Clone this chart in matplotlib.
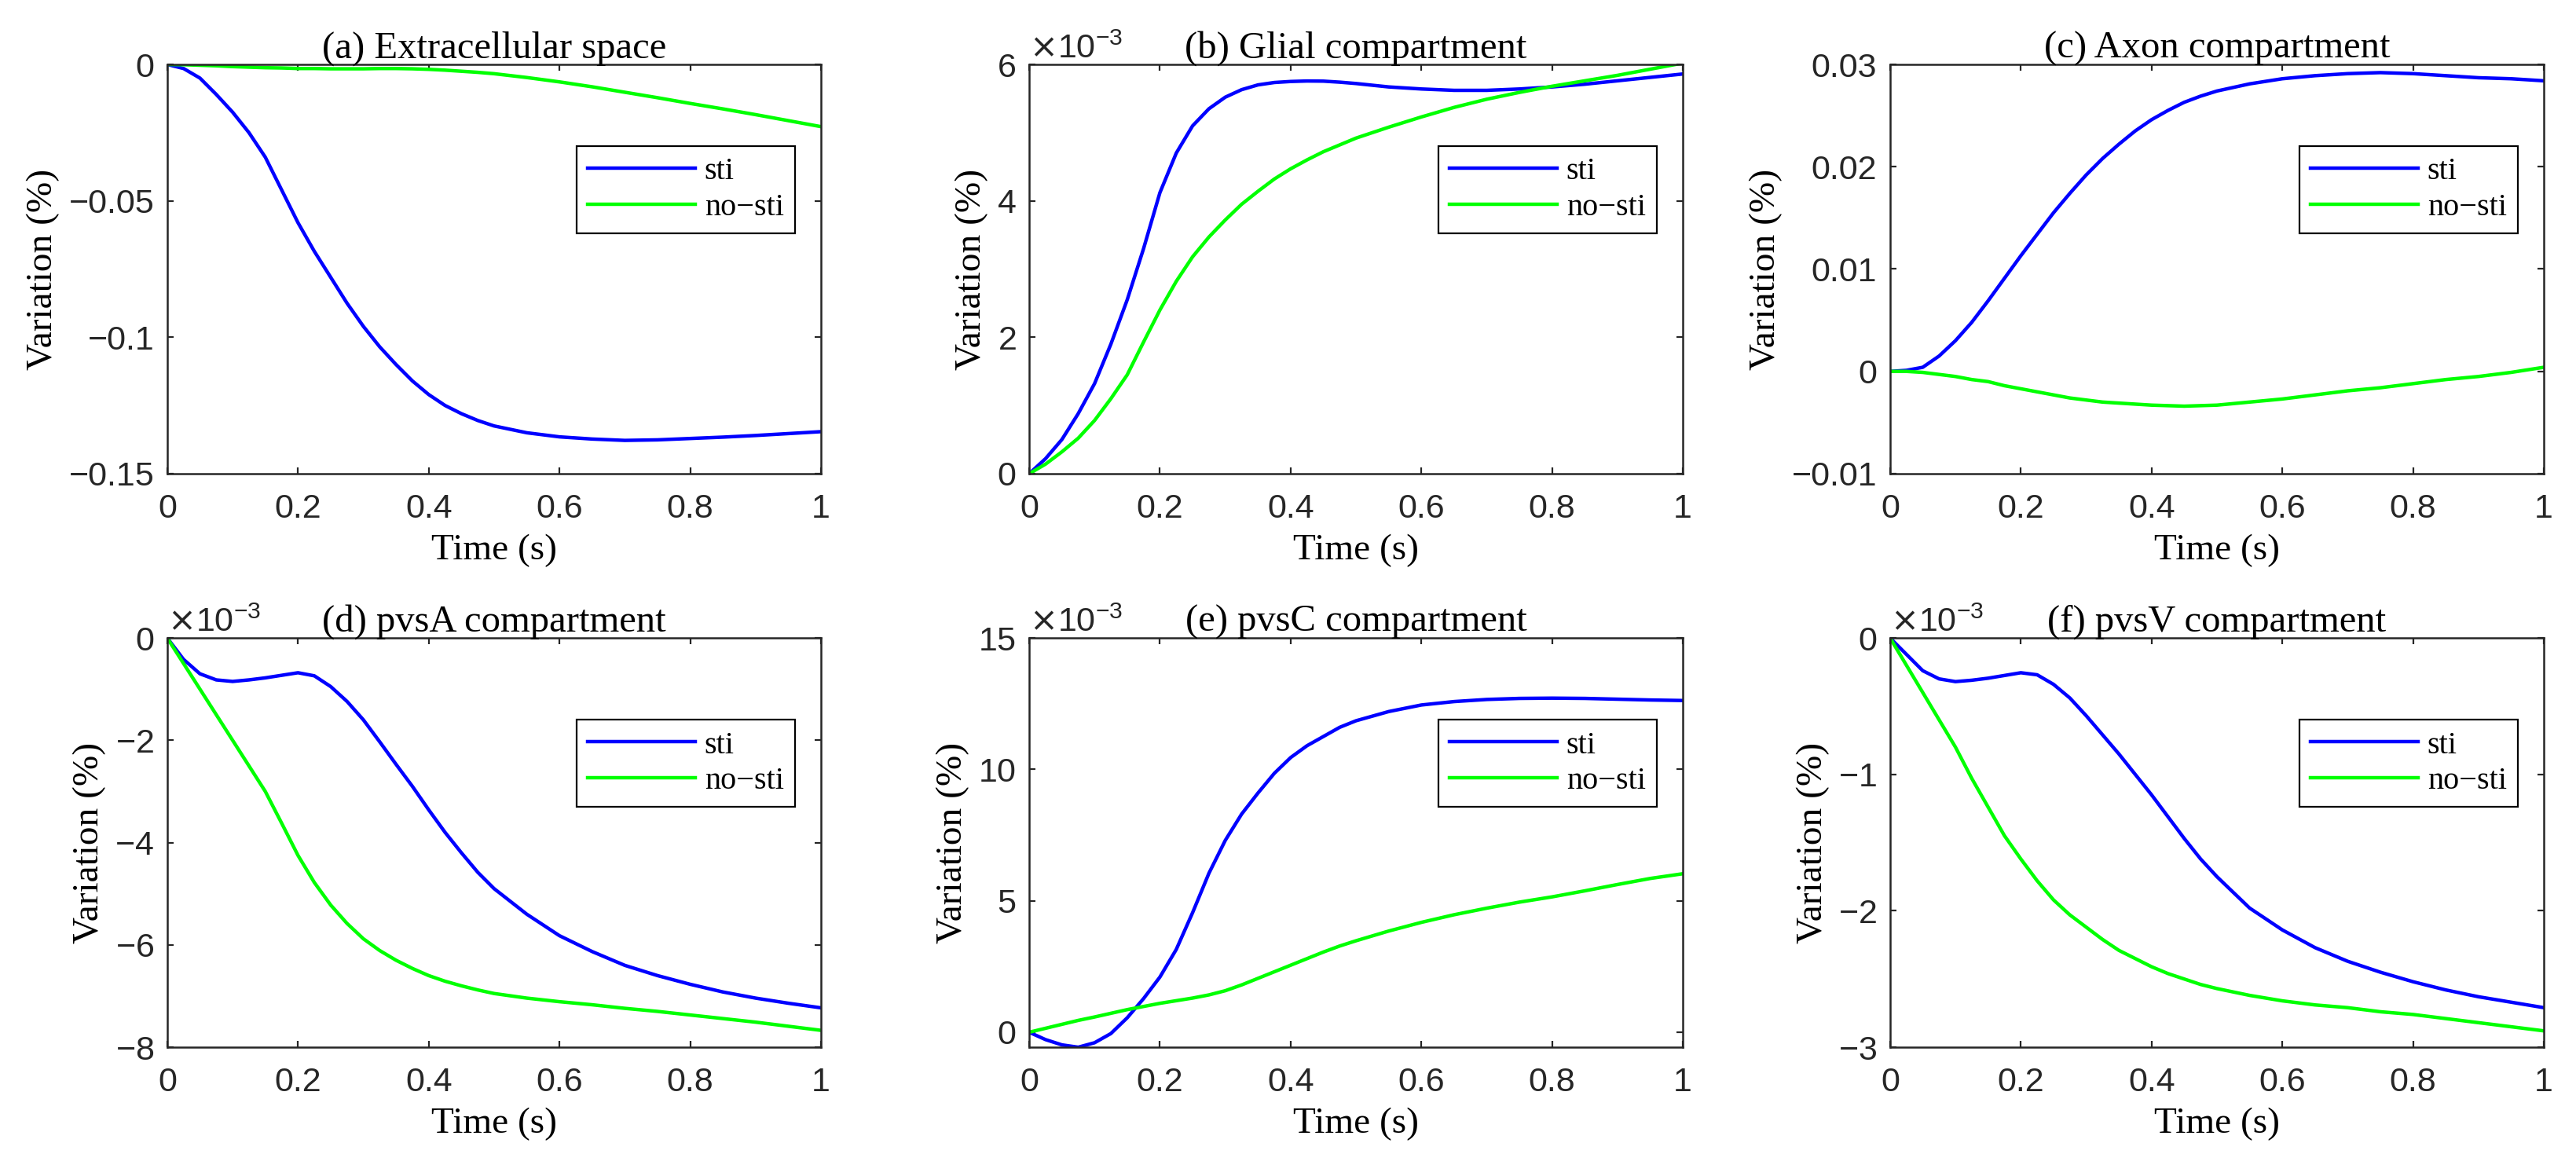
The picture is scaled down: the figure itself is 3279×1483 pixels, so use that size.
import matplotlib
matplotlib.use("Agg")
import matplotlib.pyplot as plt
from matplotlib.ticker import FuncFormatter

plt.rcParams['font.family'] = ['Liberation Sans', 'DejaVu Sans']
plt.rcParams['axes.unicode_minus'] = True

SERIF = ['Liberation Serif', 'DejaVu Serif']
AX_COLOR = (0.15, 0.15, 0.15)

# time axis (s)
time = [0, 0.025, 0.05, 0.075, 0.1, 0.125, 0.15, 0.175, 0.2, 0.225, 0.25,
        0.275, 0.3, 0.325, 0.35, 0.375, 0.4, 0.425, 0.45, 0.475, 0.5,
        0.55, 0.6, 0.65, 0.7, 0.75, 0.8, 0.85, 0.9, 0.95, 1.0]

# (a) extracellular space, variation in %
ecs_sti = [0, -0.0015, -0.005, -0.011, -0.0175, -0.025, -0.034, -0.046, -0.058,
           -0.0685, -0.078, -0.0875, -0.096, -0.1035, -0.110, -0.116, -0.121,
           -0.125, -0.128, -0.1305, -0.1325,
           -0.135, -0.1365, -0.1373, -0.1378, -0.1376, -0.1371, -0.1366,
           -0.136, -0.1353, -0.1346]
ecs_nosti = [0, -0.0001, -0.0003, -0.0005, -0.0008, -0.001, -0.0012, -0.0013,
             -0.0015, -0.0015, -0.0016, -0.0016, -0.0016, -0.0015, -0.0015,
             -0.0016, -0.0018, -0.0021, -0.0025, -0.0029, -0.0034,
             -0.0048, -0.0064, -0.0082, -0.0102, -0.0122, -0.0143,
             -0.0163, -0.0184, -0.0206, -0.0228]

# (b) glial compartment (x1e-3 %)
glia_sti = [0, 0.22, 0.5, 0.88, 1.32, 1.9, 2.55, 3.3, 4.12, 4.7, 5.1, 5.35,
            5.52, 5.63, 5.7, 5.735, 5.75, 5.757, 5.755, 5.74, 5.72,
            5.67, 5.64, 5.62, 5.62, 5.64, 5.67, 5.71, 5.76, 5.81, 5.86]
glia_nosti = [0, 0.14, 0.32, 0.52, 0.78, 1.1, 1.45, 1.93, 2.4, 2.82, 3.18,
              3.47, 3.72, 3.95, 4.14, 4.32, 4.47, 4.6, 4.72, 4.82, 4.92,
              5.08, 5.23, 5.37, 5.49, 5.59, 5.68, 5.76, 5.84, 5.93, 6.02]

# (c) axon compartment (%)
axon_sti = [0, 0.0001, 0.0004, 0.0015, 0.003, 0.0048, 0.0069, 0.0091, 0.0113,
            0.0134, 0.0155, 0.0174, 0.0192, 0.0208, 0.0222, 0.0235, 0.0246,
            0.0255, 0.0263, 0.0269, 0.0274,
            0.0281, 0.0286, 0.0289, 0.0291, 0.0292, 0.0291, 0.0289, 0.0287,
            0.0286, 0.0284]
axon_nosti = [0, 0, -0.0001, -0.0003, -0.0005, -0.0008, -0.001, -0.0014,
              -0.0017, -0.002, -0.0023, -0.0026, -0.0028, -0.003, -0.0031,
              -0.0032, -0.0033, -0.00335, -0.0034, -0.00335, -0.0033,
              -0.003, -0.0027, -0.0023, -0.0019, -0.0016, -0.0012,
              -0.0008, -0.0005, -0.0001, 0.0004]

# (d) pvsA compartment (x1e-3 %)
pvsa_sti = [0, -0.42, -0.7, -0.82, -0.85, -0.82, -0.78, -0.73, -0.68, -0.74,
            -0.95, -1.24, -1.6, -2.03, -2.47, -2.9, -3.36, -3.8, -4.2, -4.58,
            -4.9, -5.4, -5.82, -6.13, -6.4, -6.6, -6.77, -6.92, -7.04, -7.14,
            -7.23]
pvsa_nosti = [0, -0.5, -1.0, -1.5, -2.0, -2.5, -3.0, -3.62, -4.25, -4.78,
              -5.22, -5.58, -5.88, -6.11, -6.3, -6.46, -6.6, -6.71, -6.8,
              -6.88, -6.95, -7.04, -7.11, -7.17, -7.24, -7.3, -7.37, -7.44,
              -7.51, -7.59, -7.67]

# (e) pvsC compartment (x1e-3 %)
pvsc_sti = [0, -0.28, -0.48, -0.57, -0.4, -0.05, 0.55, 1.28, 2.1, 3.15, 4.55,
            6.05, 7.3, 8.3, 9.1, 9.85, 10.45, 10.9, 11.25, 11.6, 11.85,
            12.2, 12.45, 12.58, 12.66, 12.7, 12.71, 12.7, 12.67, 12.64, 12.62]
pvsc_nosti = [0, 0.15, 0.3, 0.45, 0.58, 0.72, 0.86, 0.98, 1.1, 1.2, 1.3, 1.42,
              1.58, 1.8, 2.05, 2.3, 2.55, 2.8, 3.05, 3.28, 3.48,
              3.85, 4.18, 4.47, 4.72, 4.95, 5.15, 5.38, 5.62, 5.85, 6.03]

# (f) pvsV compartment (x1e-3 %)
pvsv_sti = [0, -0.12, -0.24, -0.3, -0.32, -0.31, -0.295, -0.275, -0.255, -0.27,
            -0.34, -0.44, -0.57, -0.71, -0.85, -1.0, -1.15, -1.31, -1.47,
            -1.62, -1.75, -1.98, -2.14, -2.27, -2.37, -2.45, -2.52, -2.58,
            -2.63, -2.67, -2.71]
pvsv_nosti = [0, -0.2, -0.4, -0.6, -0.8, -1.03, -1.24, -1.45, -1.62, -1.78,
              -1.92, -2.03, -2.12, -2.21, -2.29, -2.35, -2.41, -2.46, -2.5,
              -2.54, -2.57, -2.62, -2.66, -2.69, -2.71, -2.74, -2.76, -2.79,
              -2.82, -2.85, -2.88]

titles = ['(a) Extracellular space', '(b) Glial compartment', '(c) Axon compartment',
          '(d) pvsA compartment', '(e) pvsC compartment', '(f) pvsV compartment']
x_ticks = [0, 0.2, 0.4, 0.6, 0.8, 1]
x_ticklabels = ['0', '0.2', '0.4', '0.6', '0.8', '1']
series_labels = ['sti', 'no\u2212sti']


def milli(vals):
    return [v * 1e-3 for v in vals]


panels = [
    (ecs_sti, ecs_nosti, (-0.15, 0), [-0.15, -0.1, -0.05, 0], False),
    (milli(glia_sti), milli(glia_nosti), (0, 6e-3), [0, 2e-3, 4e-3, 6e-3], True),
    (axon_sti, axon_nosti, (-0.01, 0.03), [-0.01, 0, 0.01, 0.02, 0.03], False),
    (milli(pvsa_sti), milli(pvsa_nosti), (-8e-3, 0), [-8e-3, -6e-3, -4e-3, -2e-3, 0], True),
    (milli(pvsc_sti), milli(pvsc_nosti), (-0.57e-3, 15e-3), [0, 5e-3, 10e-3, 15e-3], True),
    (milli(pvsv_sti), milli(pvsv_nosti), (-3e-3, 0), [-3e-3, -2e-3, -1e-3, 0], True),
]

fig = plt.figure(figsize=(16.4, 7.415), dpi=200)
lefts = [0.0649, 0.3994, 0.7335]
bottoms = [0.5934, 0.1011]
w, h = 0.2537, 0.3513

for i, (sti, nosti, ylim, yticks, sci) in enumerate(panels):
    ax = fig.add_axes([lefts[i % 3], bottoms[i // 3], w, h])
    ax.plot(time, sti, color=(0, 0, 1), lw=1.6, label=series_labels[0])
    ax.plot(time, nosti, color=(0, 1, 0), lw=1.6, label=series_labels[1])
    ax.set_xlim(0, 1)
    ax.set_ylim(*ylim)
    ax.set_xticks(x_ticks)
    ax.set_xticklabels(x_ticklabels)
    ax.set_yticks(yticks)
    if sci:
        ax.ticklabel_format(axis='y', style='sci', scilimits=(-3, -3), useMathText=True)
        ax.yaxis.get_offset_text().set_fontsize(15.5)
        ax.yaxis.get_offset_text().set_color(AX_COLOR)
    else:
        ax.yaxis.set_major_formatter(FuncFormatter(lambda v, _: f'{v:g}'.replace('-', '\u2212')))
    ax.tick_params(direction='in', length=3, width=0.8, colors=AX_COLOR,
                   labelsize=15.5, top=True, right=True)
    ax.tick_params(axis='x', pad=9)
    ax.tick_params(axis='y', pad=6)
    for s in ax.spines.values():
        s.set_color(AX_COLOR)
        s.set_linewidth(0.9)
    ax.set_title(titles[i], family=SERIF, fontsize=17.5, pad=3)
    ax.set_xlabel('Time (s)', family=SERIF, fontsize=17, labelpad=4)
    ax.set_ylabel('Variation (%)', family=SERIF, fontsize=17, labelpad=4)
    leg = ax.legend(loc='upper right', bbox_to_anchor=(0.96, 0.80),
                    prop={'family': SERIF, 'size': 14.5}, frameon=True,
                    fancybox=False, edgecolor='k', framealpha=1,
                    handlelength=3.4, handletextpad=0.3, labelspacing=0.2,
                    borderpad=0.35, borderaxespad=0)
    leg.get_frame().set_linewidth(0.8)

fig.savefig('out.png', dpi=200)
